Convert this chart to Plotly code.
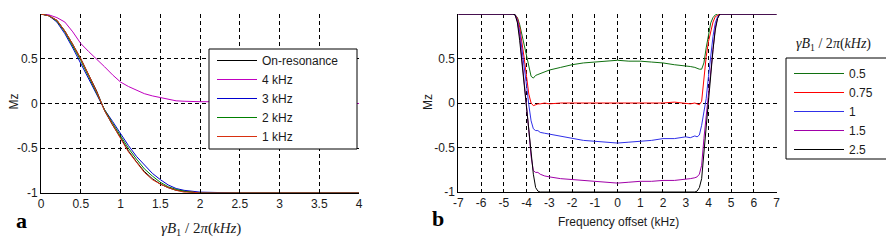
import plotly.graph_objects as go

# page body adds an 8px margin; figure is sized so it ends at the window edge
OFF = 8
W, H = 894 - OFF, 244 - OFF

# ---------------- Panel a data ----------------
b1_khz = [0, 0.1, 0.2, 0.3, 0.4, 0.5, 0.6, 0.7, 0.8, 0.9, 1.0, 1.1, 1.2, 1.3, 1.4,
          1.5, 1.6, 1.7, 1.8, 1.9, 2.0, 2.5, 3.0, 3.5, 4.0]
mz_on_res = [1, 0.98, 0.93, 0.81, 0.66, 0.50, 0.32, 0.14, -0.08, -0.24, -0.38, -0.53, -0.65,
             -0.76, -0.84, -0.90, -0.94, -0.97, -0.98, -0.99, -1.0, -1.0, -1.0, -1.0, -1.0]
mz_4khz = [1, 0.99, 0.96, 0.91, 0.80, 0.67, 0.58, 0.50, 0.41, 0.32, 0.24, 0.19, 0.15,
           0.11, 0.085, 0.065, 0.045, 0.03, 0.025, 0.02, 0.02, 0.02, 0.015, 0.005, 0.0]
mz_3khz = [1, 0.98, 0.91, 0.78, 0.62, 0.45, 0.28, 0.11, -0.07, -0.20, -0.34, -0.47, -0.59,
           -0.69, -0.78, -0.85, -0.91, -0.95, -0.97, -0.98, -0.99, -1.0, -1.0, -1.0, -1.0]
mz_2khz = [1, 0.98, 0.92, 0.80, 0.64, 0.48, 0.30, 0.12, -0.07, -0.22, -0.36, -0.50, -0.62,
           -0.73, -0.81, -0.88, -0.93, -0.96, -0.98, -0.99, -1.0, -1.0, -1.0, -1.0, -1.0]
mz_1khz = [1, 0.98, 0.93, 0.81, 0.66, 0.50, 0.32, 0.13, -0.08, -0.24, -0.39, -0.54, -0.66,
           -0.77, -0.85, -0.90, -0.94, -0.97, -0.99, -0.99, -1.0, -1.0, -1.0, -1.0, -1.0]

# ---------------- Panel b data ----------------
offset_khz = [-7, -4.6, -4.5, -4.4, -4.3, -4.2, -4.1, -4.0, -3.9, -3.8, -3.7, -3.6, -3.5,
              -3.4, -3.2, -3.0, -2.5, -2.0, -1.5, -1.0, -0.5, 0.0, 0.5, 1.0, 1.5, 2.0,
              2.5, 3.0, 3.2, 3.4, 3.5, 3.6, 3.7, 3.8, 3.9, 4.0, 4.1, 4.2, 4.3, 4.4, 4.5,
              4.6, 7]
mz_b05 = [1, 1, 0.99, 0.96, 0.88, 0.76, 0.64, 0.53, 0.38, 0.30, 0.28, 0.31, 0.32,
          0.33, 0.35, 0.37, 0.40, 0.43, 0.45, 0.46, 0.47, 0.48, 0.47, 0.47, 0.46, 0.45,
          0.43, 0.42, 0.41, 0.40, 0.39, 0.38, 0.38, 0.45, 0.62, 0.78, 0.90, 0.96, 0.99,
          1, 1, 1, 1]
mz_b075 = [1, 1, 0.99, 0.95, 0.85, 0.70, 0.50, 0.30, 0.10, 0.0, -0.03, -0.02, -0.01,
           -0.01, 0.0, -0.01, 0.0, 0.0, 0.0, 0.0, 0.0, 0.0, 0.0, 0.0, 0.0, 0.0,
           0.01, 0.0, -0.01, 0.0, -0.01, -0.02, 0.02, 0.30, 0.52, 0.69, 0.82, 0.91, 0.97,
           0.99, 1, 1, 1]
mz_b1 = [1, 1, 0.99, 0.93, 0.80, 0.62, 0.42, 0.20, -0.02, -0.20, -0.29, -0.31, -0.31,
         -0.33, -0.34, -0.35, -0.37, -0.40, -0.42, -0.43, -0.44, -0.45, -0.44, -0.43, -0.42, -0.40,
         -0.40, -0.38, -0.39, -0.37, -0.38, -0.36, -0.25, -0.10, 0.05, 0.30, 0.55, 0.75, 0.90,
         0.97, 1, 1, 1]
mz_b15 = [1, 1, 0.99, 0.92, 0.75, 0.50, 0.25, 0.0, -0.30, -0.60, -0.76, -0.78, -0.78,
          -0.80, -0.82, -0.83, -0.85, -0.86, -0.87, -0.88, -0.89, -0.90, -0.89, -0.88, -0.88, -0.87,
          -0.87, -0.86, -0.85, -0.84, -0.83, -0.80, -0.70, -0.40, -0.15, 0.10, 0.40, 0.65, 0.85,
          0.95, 1, 1, 1]
mz_b25 = [1, 1, 0.99, 0.90, 0.70, 0.45, 0.20, -0.03, -0.28, -0.52, -0.80, -0.95, -0.99,
          -1.0, -1.0, -1.0, -1.0, -1.0, -1.0, -1.0, -1.0, -1.0, -1.0, -1.0, -1.0, -1.0,
          -1.0, -1.0, -1.0, -1.0, -0.99, -0.95, -0.85, -0.55, -0.25, 0.0, 0.30, 0.60, 0.82,
          0.95, 1, 1, 1]

# tick labels
a_xticks = [0, 0.5, 1, 1.5, 2, 2.5, 3, 3.5, 4]
a_xticklabels = ["0", "0.5", "1", "1.5", "2", "2.5", "3", "3.5", "4"]
y_ticks = [-1, -0.5, 0, 0.5, 1]
y_ticklabels = ["-1", "-0.5", "0", "0.5", "1"]
b_xticks = [-7, -6, -5, -4, -3, -2, -1, 0, 1, 2, 3, 4, 5, 6, 7]
b_xticklabels = ["-7", "-6", "-5", "-4", "-3", "-2", "-1", "0", "1", "2", "3", "4", "5", "6", "7"]

a_names = ["On-resonance", "4 kHz", "3 kHz", "2 kHz", "1 kHz"]
a_colors = ["#000000", "#c000c0", "#0000d0", "#008000", "#d83010"]
b_names = ["0.5", "0.75", "1", "1.5", "2.5"]
b_colors = ["#107010", "#ff0000", "#3030e8", "#a000a8", "#000000"]


def px_x(p):
    return (p - OFF) / W


def px_y(p):
    return 1 - (p - OFF) / H


fig = go.Figure()

for name, col, ys in zip(a_names, a_colors, [mz_on_res, mz_4khz, mz_3khz, mz_2khz, mz_1khz]):
    fig.add_trace(go.Scatter(x=b1_khz, y=ys, mode="lines", name=name,
                             line=dict(color=col, width=1), xaxis="x", yaxis="y",
                             legend="legend"))

for name, col, ys in zip(b_names, b_colors, [mz_b05, mz_b075, mz_b1, mz_b15, mz_b25]):
    fig.add_trace(go.Scatter(x=offset_khz, y=ys, mode="lines", name=name,
                             line=dict(color=col, width=1), xaxis="x2", yaxis="y2",
                             legend="legend2"))

tickfont = dict(family="Liberation Sans, Arial", size=12, color="#1a1a1a")
common = dict(showgrid=True, gridcolor="black", gridwidth=1, griddash="4px,3px",
              zeroline=False, showline=True, linecolor="black", linewidth=1,
              ticks="inside", ticklen=3, tickcolor="black", tickfont=tickfont,
              mirror=False, automargin=False)

fig.update_layout(
    width=W, height=H,
    margin=dict(l=0, r=0, t=0, b=0, autoexpand=False),
    paper_bgcolor="white", plot_bgcolor="white",
    xaxis=dict(domain=[px_x(41), px_x(359)], range=[0, 4], tickvals=a_xticks,
               ticktext=a_xticklabels, anchor="y", **common),
    yaxis=dict(domain=[px_y(193), px_y(14)], range=[-1, 1], tickvals=y_ticks,
               ticktext=y_ticklabels, anchor="x", **common),
    xaxis2=dict(domain=[px_x(458.3), px_x(776.7)], range=[-7, 7], tickvals=b_xticks,
                ticktext=b_xticklabels, anchor="y2", **common),
    yaxis2=dict(domain=[px_y(192), px_y(14)], range=[-1, 1], tickvals=y_ticks,
                ticktext=y_ticklabels, anchor="x2", **common),
    legend=dict(x=px_x(212), y=px_y(46), xanchor="left", yanchor="top",
                bgcolor="rgba(0,0,0,0)", borderwidth=0, itemwidth=40,
                font=dict(family="Liberation Sans, Arial", size=12, color="#1a1a1a")),
    legend2=dict(x=px_x(789), y=px_y(59), xanchor="left", yanchor="top",
                 bgcolor="rgba(0,0,0,0)", borderwidth=0, itemwidth=50,
                 font=dict(family="Liberation Sans, Arial", size=12, color="#1a1a1a")),
    showlegend=True,
)

# legend boxes
fig.add_shape(type="rect", xref="paper", yref="paper", x0=px_x(209), x1=px_x(357),
              y0=px_y(149), y1=px_y(49), line=dict(color="black", width=1),
              fillcolor="white", layer="above")
fig.add_shape(type="rect", xref="paper", yref="paper", x0=px_x(786), x1=px_x(887),
              y0=px_y(159), y1=px_y(58), line=dict(color="black", width=1),
              fillcolor="rgba(0,0,0,0)", layer="above")

serif = "Liberation Serif, Times New Roman"
b1_title = "<i>γB</i><sub>1</sub> / 2<i>π</i>(<i>kHz</i>)"
ann = [
    dict(text=b1_title, x=px_x(201), y=px_y(229), font=dict(family=serif, size=15, color="#1a1a1a")),
    dict(text="Frequency offset (kHz)", x=px_x(618), y=px_y(222),
         font=dict(family="Liberation Sans, Arial", size=12, color="#1a1a1a")),
    dict(text="Mz", x=px_x(13.5), y=px_y(102), textangle=-90,
         font=dict(family="Liberation Sans, Arial", size=12, color="#1a1a1a")),
    dict(text="Mz", x=px_x(428), y=px_y(102), textangle=-90,
         font=dict(family="Liberation Sans, Arial", size=12, color="#1a1a1a")),
    dict(text="<b>a</b>", x=px_x(21), y=px_y(220), font=dict(family=serif, size=22, color="black")),
    dict(text="<b>b</b>", x=px_x(438), y=px_y(218), font=dict(family=serif, size=22, color="black")),
    dict(text=b1_title, x=px_x(833), y=px_y(44), font=dict(family=serif, size=14, color="#1a1a1a")),
]
for a in ann:
    fig.add_annotation(xref="paper", yref="paper", showarrow=False,
                       xanchor="center", yanchor="middle", **a)

fig.write_html("out.html")
